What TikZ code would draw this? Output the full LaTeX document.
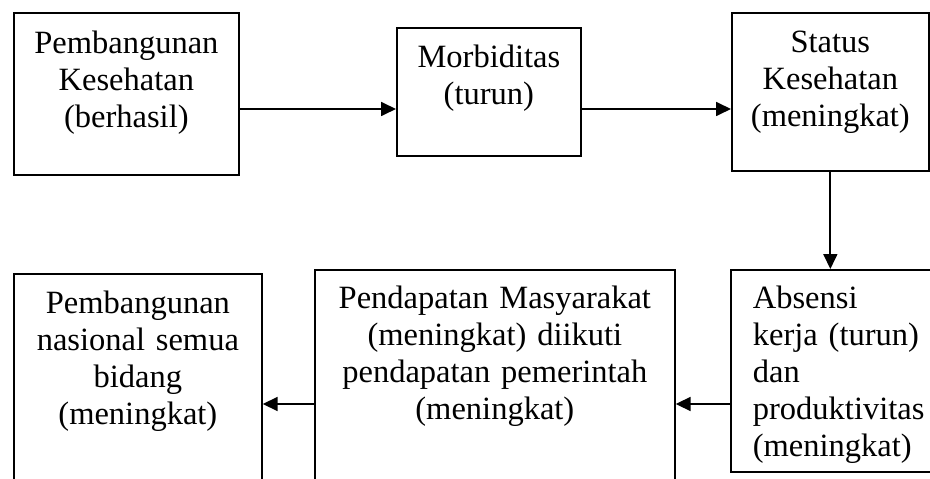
\documentclass[tikz,border=0pt]{standalone}
\usepackage{fontspec}
\setmainfont{Liberation Serif}
\usetikzlibrary{arrows.meta}

\begin{document}
\begin{tikzpicture}[x=0.02cm,y=-0.02cm,
  kotak/.style={draw,line width=1pt,inner sep=0pt,align=center,anchor=north west,
    font=\fontsize{18.5}{21}\selectfont},
  panah/.style={line width=1pt,-{Triangle[length=0.3cm,width=0.28cm]}}]

% white page with the size of the original picture
\useasboundingbox[fill=white] (0,0) rectangle (930,479);

% height of the two rows of arrows
\coordinate (atas) at (0,109);
\coordinate (bawah) at (0,404);

% top row
\node[kotak,text width=4.5cm,text height=0.82cm,text depth=2.42cm] (kes) at (13,12)
  {Pembangunan\\Kesehatan\\(berhasil)};
\node[kotak,text width=3.68cm,text height=0.8cm,text depth=1.76cm] (morb) at (396,27)
  {Morbiditas\\(turun)};
\node[kotak,text width=3.94cm,text height=0.8cm,text depth=2.36cm] (stat) at (731,12)
  {Status\\Kesehatan\\(meningkat)};

% bottom row (boxes run past the lower and right edge)
\node[kotak,align=left,inner xsep=0.44cm,text width=3.44cm,text height=0.78cm,text depth=3.26cm] (abs) at (730,269)
  {Absensi\\kerja (turun)\\dan\\produktivitas\\(meningkat)};
\node[kotak,text width=7.2cm,text height=0.78cm,text depth=3.84cm] (pend) at (314,269)
  {Pendapatan Masyarakat\\(meningkat) diikuti\\pendapatan pemerintah\\(meningkat)};
\node[kotak,text width=4.96cm,text height=0.8cm,text depth=3.74cm] (nas) at (13,273)
  {Pembangunan\\nasional semua\\bidang\\(meningkat)};

% arrows
\draw[panah] (kes.east |- atas) -- (morb.west |- atas);
\draw[panah] (morb.east |- atas) -- (stat.west |- atas);
\draw[panah] (stat.south) -- (stat.south |- abs.north);
\draw[panah] (abs.west |- bawah) -- (pend.east |- bawah);
\draw[panah] (pend.west |- bawah) -- (nas.east |- bawah);

\end{tikzpicture}
\end{document}
